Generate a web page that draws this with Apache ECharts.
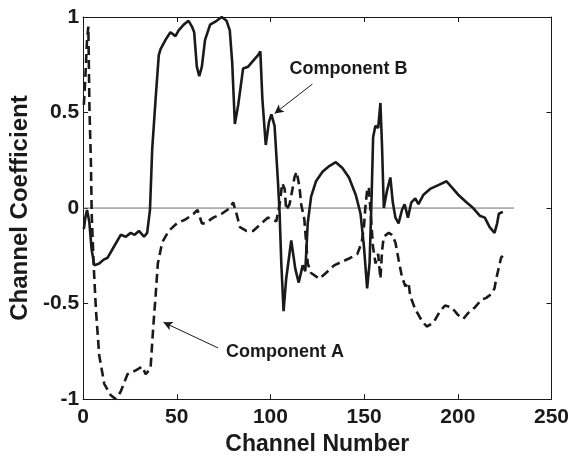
<!DOCTYPE html>
<html><head><meta charset="utf-8">
<script src="https://cdn.jsdelivr.net/npm/echarts@6/dist/echarts.min.js"></script>
<style>html,body{margin:0;padding:0;background:#fff}#c{width:572px;height:461px}</style>
</head><body><div id="c"></div>
<script>
// Tick values
const xTicks = [0, 50, 100, 150, 200, 250];
const yTicks = [-1, -0.5, 0, 0.5, 1];
// Component B (solid) [channel, coefficient]
const compB = [[0.4,-0.11],[1.2,-0.05],[2.1,-0.01],[3.3,-0.07],[4.6,-0.22],[6,-0.30],[8.6,-0.29],[11,-0.27],[13.1,-0.26],[16.6,-0.20],[20.1,-0.14],[22.8,-0.15],[25.4,-0.13],[27.5,-0.14],[29.8,-0.12],[32.5,-0.15],[34.2,-0.13],[35.7,-0.01],[36.9,0.31],[38.7,0.57],[40.4,0.80],[41.3,0.83],[44,0.88],[46.6,0.92],[49.3,0.90],[51,0.93],[53.7,0.96],[56.3,0.98],[58.1,0.95],[59.3,0.92],[60.7,0.74],[62,0.69],[63.4,0.74],[65.1,0.88],[67.8,0.96],[71.3,0.98],[74,1.0],[76.6,0.98],[78.3,0.93],[79.6,0.76],[81,0.44],[82.8,0.54],[85.4,0.73],[88.1,0.74],[90.7,0.77],[93.4,0.80],[94.6,0.82],[95.7,0.57],[97.5,0.33],[99.2,0.45],[100.5,0.49],[102.2,0.43],[104,0.14],[104.9,-0.03],[105.8,-0.29],[107,-0.54],[108.4,-0.37],[111.1,-0.17],[113.3,-0.32],[115.1,-0.39],[117.2,-0.30],[118.6,-0.33],[119.9,-0.08],[121.7,0.06],[124.3,0.14],[127.8,0.19],[131.4,0.22],[134.9,0.24],[138.4,0.21],[141.9,0.16],[145.5,0.07],[148.1,-0.03],[149.9,-0.20],[151.6,-0.42],[152.9,-0.29],[154,0.06],[154.8,0.37],[156,0.43],[157.5,0.42],[158.7,0.55],[159.6,0.31],[160.5,0.0],[162.2,0.09],[164,0.16],[165.3,0.03],[166.7,-0.05],[168.4,-0.08],[170.2,-0.01],[171.6,0.02],[173.4,-0.05],[175.2,0.03],[177.3,0.05],[179,0.02],[181.7,0.07],[185.2,0.10],[189.6,0.12],[194,0.14],[196.7,0.11],[200.2,0.07],[204.6,0.03],[208.2,0.0],[211.7,-0.04],[214.4,-0.05],[217,-0.10],[219.6,-0.13],[221,-0.08],[221.9,-0.03],[224,-0.02]];
// Component A (dashed)
const compA = [[0.4,0.54],[1.1,0.66],[2.1,0.88],[2.8,0.95],[3.4,0.52],[4.2,0.23],[4.6,-0.03],[5.6,-0.29],[6.9,-0.54],[8.6,-0.77],[11.3,-0.92],[14.8,-0.98],[17.5,-1.0],[20.1,-0.96],[23.7,-0.87],[28.1,-0.85],[31.6,-0.83],[33.4,-0.87],[36,-0.84],[37.4,-0.63],[38.7,-0.46],[39.9,-0.29],[42.2,-0.18],[45.7,-0.12],[50.1,-0.08],[54.6,-0.06],[59,-0.03],[61.1,-0.01],[63.4,-0.08],[65.1,-0.08],[69.5,-0.05],[74,-0.03],[78.4,0.0],[80.1,0.03],[81.9,-0.03],[83.7,-0.10],[87.2,-0.12],[90.7,-0.12],[95.2,-0.08],[98.7,-0.05],[101.3,-0.06],[103.1,-0.07],[104.9,0.02],[106.3,0.13],[107.6,0.10],[108.4,-0.01],[110.2,0.02],[111.6,0.09],[112.8,0.16],[114,0.19],[115.5,0.11],[116.4,0.02],[118.1,-0.06],[119.9,-0.29],[121.7,-0.34],[126.1,-0.37],[129.6,-0.34],[134,-0.30],[138.4,-0.28],[142.8,-0.26],[146.4,-0.24],[148.7,-0.18],[149.9,-0.10],[150.8,0.02],[151.6,0.09],[152.5,0.11],[153.4,-0.01],[154.7,-0.20],[156.1,-0.29],[157.5,-0.24],[158.7,-0.37],[159.6,-0.22],[160.5,-0.15],[163.1,-0.13],[164.9,-0.14],[166.7,-0.18],[168.4,-0.27],[170.2,-0.36],[172,-0.41],[173.7,-0.39],[174.6,-0.46],[177.3,-0.53],[180.8,-0.59],[183.4,-0.62],[187,-0.60],[190.5,-0.54],[193.2,-0.51],[196.7,-0.52],[200.2,-0.56],[202.9,-0.58],[205.5,-0.55],[209.1,-0.52],[212.6,-0.48],[215.2,-0.47],[217.9,-0.45],[219.6,-0.42],[220.5,-0.37],[221.7,-0.32],[223.1,-0.26],[224,-0.25]];
// Zero reference line
const zeroLine = [[0,0],[230,0]];
// Annotations: label anchor and arrow [from, to]
const labelA = {text:'Component A', at:[76.3,-0.753], from:[72.0,-0.732], to:[42.9,-0.598]};
const labelB = {text:'Component B', at:[110.2,0.727], from:[122.4,0.649], to:[102.2,0.495]};

const FONT = '"Liberation Sans", Arial, sans-serif';
const INK = '#1a1a1a';
const chart = echarts.init(document.getElementById('c'), null, {renderer:'canvas'});
function annot(l){
  return {
    markLine:{silent:true, symbol:['none','arrow'], symbolSize:[7,9],
      lineStyle:{color:INK, width:1, type:'solid'}, label:{show:false},
      data:[[{coord:l.from},{coord:l.to}]]},
    markPoint:{silent:true, symbol:'circle', symbolSize:0,
      label:{show:true, position:'right', distance:0, formatter:l.text, color:INK,
        fontFamily:FONT, fontWeight:'bold', fontSize:18},
      data:[{coord:l.at}]}
  };
}
const axisCommon = {
  axisLine:{show:true, onZero:false, lineStyle:{color:INK, width:1}},
  axisTick:{show:true, inside:true, length:5, lineStyle:{color:INK, width:1}},
  splitLine:{show:false}
};
chart.setOption({
  animation:false,
  backgroundColor:'#fff',
  grid:{left:82, right:18, top:17, bottom:56, containLabel:false},
  xAxis:[
    Object.assign({type:'value', min:xTicks[0], max:xTicks[xTicks.length-1], interval:50, position:'bottom',
      name:'Channel Number', nameLocation:'middle', nameGap:33,
      nameTextStyle:{fontFamily:FONT, fontWeight:'bold', fontSize:23, color:INK},
      axisLabel:{margin:8, fontFamily:FONT, fontWeight:'bold', fontSize:21, color:INK}}, axisCommon),
    Object.assign({type:'value', min:xTicks[0], max:xTicks[xTicks.length-1], interval:50, position:'top',
      axisLabel:{show:false}}, axisCommon)
  ],
  yAxis:[
    Object.assign({type:'value', min:yTicks[0], max:yTicks[yTicks.length-1], interval:0.5, position:'left',
      name:'Channel Coefficient', nameLocation:'middle', nameGap:39,
      nameTextStyle:{fontFamily:FONT, fontWeight:'bold', fontSize:24, color:INK},
      axisLabel:{margin:4, fontFamily:FONT, fontWeight:'bold', fontSize:21, color:INK}}, axisCommon),
    Object.assign({type:'value', min:yTicks[0], max:yTicks[yTicks.length-1], interval:0.5, position:'right',
      axisLabel:{show:false}}, axisCommon)
  ],
  series:[
    {type:'line', data:zeroLine, symbol:'none', lineStyle:{color:'#6e6e6e', width:1}, z:1},
    Object.assign({type:'line', name:'Component A', data:compA, symbol:'none', smooth:false,
      lineStyle:{color:INK, width:2.6, type:[9,5]}, z:3}, annot(labelA)),
    Object.assign({type:'line', name:'Component B', data:compB, symbol:'none', smooth:false,
      lineStyle:{color:INK, width:2.6}, z:4}, annot(labelB))
  ]
});
</script></body></html>
